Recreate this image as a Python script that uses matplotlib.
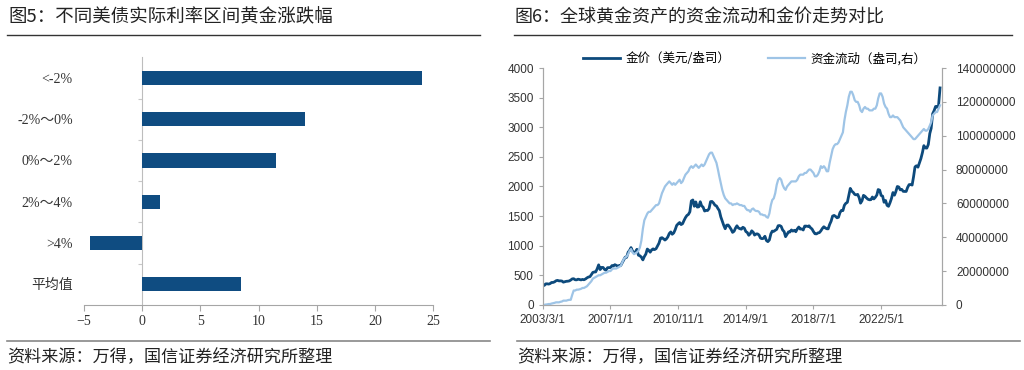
import matplotlib
matplotlib.use("Agg")
import matplotlib.pyplot as plt
from matplotlib.lines import Line2D
import numpy as np
import pandas as pd

plt.rcParams['font.family'] = ['Noto Sans CJK SC', 'DejaVu Sans']

# ---- left chart data ----
bar_labels = ['<-2%', '-2%～0%', '0%～2%', '2%～4%', '>4%', '平均值']
bar_vals = [24.0, 14.0, 11.5, 1.5, -4.5, 8.5]

# ---- right chart data (monthly, 2003/3 .. 2025/9) ----
gold = [
    352, 328, 355, 356, 351, 360, 379, 379, 389, 407,                   # 2003
    414, 405, 406, 403, 384, 392, 398, 400, 405, 420, 439, 442,         # 2004
    424, 423, 434, 429, 422, 430, 424, 437, 456, 470, 476, 510,         # 2005
    549, 555, 557, 610, 676, 596, 633, 632, 598, 586, 628, 629,         # 2006
    631, 664, 655, 679, 667, 655, 665, 665, 712, 754, 806, 803,         # 2007
    889, 922, 968, 909, 888, 889, 939, 839, 829, 806, 760, 816,         # 2008
    858, 943, 924, 890, 928, 946, 934, 949, 996, 1043, 1127, 1135,      # 2009
    1117, 1095, 1113, 1148, 1205, 1232, 1193, 1215, 1271, 1342, 1370, 1391,  # 2010
    1356, 1372, 1424, 1474, 1510, 1528, 1572, 1756, 1772, 1666, 1739, 1652,  # 2011
    1656, 1742, 1673, 1650, 1585, 1596, 1594, 1626, 1744, 1747, 1721, 1684,  # 2012
    1671, 1627, 1593, 1487, 1414, 1343, 1286, 1347, 1349, 1316, 1275, 1225,  # 2013
    1244, 1300, 1336, 1299, 1287, 1279, 1311, 1296, 1239, 1222, 1176, 1201,  # 2014
    1251, 1227, 1179, 1198, 1199, 1181, 1128, 1118, 1124, 1159, 1087, 1068,  # 2015
    1097, 1200, 1246, 1242, 1260, 1276, 1337, 1340, 1326, 1266, 1238, 1152,  # 2016
    1192, 1234, 1231, 1266, 1246, 1260, 1236, 1283, 1315, 1280, 1283, 1265,  # 2017
    1331, 1331, 1325, 1335, 1303, 1282, 1238, 1202, 1199, 1215, 1221, 1250,  # 2018
    1291, 1320, 1301, 1286, 1284, 1359, 1413, 1500, 1511, 1495, 1471, 1480,  # 2019
    1560, 1597, 1592, 1683, 1716, 1732, 1846, 1968, 1921, 1900, 1866, 1858,  # 2020
    1867, 1808, 1718, 1760, 1850, 1834, 1807, 1785, 1775, 1777, 1822, 1790,  # 2021
    1817, 1856, 1948, 1937, 1849, 1836, 1733, 1764, 1681, 1665, 1726, 1798,  # 2022
    1898, 1853, 1912, 2000, 1992, 1943, 1951, 1918, 1916, 1916, 1986, 2031,  # 2023
    2033, 2024, 2160, 2331, 2350, 2326, 2398, 2472, 2571, 2690, 2651, 2648,  # 2024
    2709, 2895, 2983, 3229, 3281, 3352, 3340, 3368, 3665,                    # 2025
]

flows_mn = [
    0, 0, 0.2, 0.3, 0.5, 0.5, 0.8, 1, 1.2, 1.5,                          # 2003
    1.5, 1.5, 1.8, 2, 2.5, 2.5, 2.5, 2.8, 3, 3, 6, 8.5,                   # 2004
    8.5, 9, 9, 9.2, 9.5, 10, 10, 10.5, 11, 12, 13, 14,                    # 2005
    15.5, 16, 16.5, 17, 17.5, 17.5, 18, 18.5, 19, 19, 19.5, 20,           # 2006
    20, 21, 21.5, 21.5, 21.5, 22, 22.5, 23, 25, 27, 28, 28.5,             # 2007
    30, 32, 33, 31, 30, 30.5, 31, 32, 34, 38, 45, 50,                     # 2008
    52, 54, 55, 55, 56, 57, 58, 59, 59, 60, 63, 66,                       # 2009
    68, 70, 71, 72, 73, 72, 71, 72, 71, 72, 73, 74,                       # 2010
    72, 73, 75, 77, 78, 79, 81, 82, 81, 82, 83, 82,                       # 2011
    81, 82, 83, 82, 83, 85, 87, 89, 90, 90, 88, 86,                       # 2012
    84, 80, 76, 72, 68, 65, 63, 62, 61, 60, 60, 59,                       # 2013
    59.5, 59.5, 60, 59.5, 59, 59, 58.5, 58.5, 57, 56, 56, 55,             # 2014
    56.5, 57, 56, 55.5, 55.5, 55, 53.5, 53.5, 53, 53, 52, 51.5,           # 2015
    54, 59, 62, 63, 66, 71, 74, 75, 74, 71, 69, 68,                       # 2016
    70, 71, 72, 73, 73, 73, 73, 74, 76, 77, 77, 77,                       # 2017
    78, 78, 79, 80, 80, 79, 78, 76, 76, 77, 79, 82,                       # 2018
    81, 82, 81, 79, 79, 84, 88, 92, 94, 95, 95, 96,                       # 2019
    98, 100, 102, 109, 114, 118, 123, 126, 126, 124, 121, 120,            # 2020
    120, 118, 115, 114, 116, 117, 116, 116, 115, 115, 115, 116,           # 2021
    116, 118, 122, 125, 125, 123, 119, 117, 116, 113, 111, 111,           # 2022
    112, 111, 111, 111, 110, 109, 107, 105, 104, 103, 102, 101,           # 2023
    100, 99, 98, 98, 99, 100, 101, 102, 103, 104, 103, 103,               # 2024
    104, 106, 108, 112, 113, 114, 114, 116, 118,                          # 2025
]

date_ticks = ['2003-03-01', '2007-01-01', '2010-11-01', '2014-09-01', '2018-07-01', '2022-05-01']
date_tick_labels = ['2003/3/1', '2007/1/1', '2010/11/1', '2014/9/1', '2018/7/1', '2022/5/1']

dates = pd.date_range('2003-03-01', periods=len(gold), freq='MS')
flows = np.array(flows_mn) * 1e6

bar_color = '#0f4c81'
gold_color = '#0d4a7c'
flow_color = '#9ec4e6'
spine_gray = '#a6a6a6'
text_col = '#333333'

fig = plt.figure(figsize=(10.24, 3.70), dpi=100)

# ================= left: bar chart =================
ax1 = fig.add_axes([0.082, 0.176, 0.341, 0.669])
y = np.arange(len(bar_labels))
ax1.barh(y, bar_vals, height=0.35, color=bar_color)
ax1.set_xlim(-5, 25)
ax1.set_ylim(len(bar_labels) - 0.5, -0.5)
ax1.set_xticks(np.arange(-5, 30, 5))
ax1.set_yticks(y)
ax1.set_yticklabels(bar_labels)
for t in ax1.get_yticklabels():
    t.set_family(['Liberation Serif', 'Noto Sans CJK SC'])
    t.set_fontsize(10)
    t.set_color(text_col)
for t in ax1.get_xticklabels():
    t.set_family('Liberation Serif')
    t.set_fontsize(10)
    t.set_color(text_col)
ax1.tick_params(axis='y', length=0, pad=8)
ax1.tick_params(axis='x', length=4, color=spine_gray, direction='out', pad=3)
for s in ['top', 'right', 'left']:
    ax1.spines[s].set_visible(False)
ax1.spines['bottom'].set_color(spine_gray)

# vertical axis at zero
sec = ax1.secondary_yaxis(5 / 30)
sec.set_yticks(np.arange(0.5, len(bar_labels) - 0.5, 1))
sec.tick_params(length=3, color='#c8c8c8', labelleft=False, labelright=False)
sec.spines['left'].set_color('#bdbdbd')

# ================= right: line chart =================
ax2 = fig.add_axes([0.530, 0.176, 0.390, 0.640])
ax3 = ax2.twinx()
l1, = ax2.plot(dates, gold, color=gold_color, lw=2.0, label='金价（美元/盎司）')
l2, = ax3.plot(dates, flows, color=flow_color, lw=1.6, label='资金流动（盎司,右）')

ax2.set_xlim(pd.Timestamp('2003-03-01'), pd.Timestamp('2025-10-13'))
ax2.set_ylim(0, 4000)
ax2.set_yticks(np.arange(0, 4001, 500))
ax3.set_ylim(0, 140000000)
ax3.set_yticks(np.arange(0, 140000001, 20000000))
ax3.set_yticklabels([str(v) for v in np.arange(0, 140000001, 20000000)])
ax2.set_xticks(pd.to_datetime(date_ticks))
ax2.set_xticklabels(date_tick_labels)

for a in (ax2, ax3):
    a.spines['top'].set_visible(False)
    for s in ['left', 'right', 'bottom']:
        a.spines[s].set_color(spine_gray)
    a.tick_params(colors=spine_gray, labelcolor=text_col, labelsize=8.5, length=3)
    for t in a.get_xticklabels() + a.get_yticklabels():
        t.set_family('Liberation Sans')
ax3.tick_params(axis='y', pad=7)

ax2.legend([l1, l2], [l1.get_label(), l2.get_label()], loc='center', ncol=2,
           bbox_to_anchor=(0.53, 1.04), frameon=False, fontsize=9,
           handlelength=3.0, columnspacing=3.0, handletextpad=0.4)

# ================= titles, rules, sources =================
fig.text(8 / 1024, 1 - 17 / 370, '图5：不同美债实际利率区间黄金涨跌幅', fontsize=13.3,
         color='#222222', va='center', ha='left')
fig.text(514 / 1024, 1 - 17 / 370, '图6：全球黄金资产的资金流动和金价走势对比', fontsize=13,
         color='#222222', va='center', ha='left')
for x0, x1 in [(7, 480), (514, 1012)]:
    fig.add_artist(Line2D([x0 / 1024, x1 / 1024], [1 - 35 / 370] * 2, color='#333333', lw=1.0))
for x0, x1 in [(7, 490), (517, 1020)]:
    fig.add_artist(Line2D([x0 / 1024, x1 / 1024], [1 - 341 / 370] * 2, color='#888888', lw=1.2))
fig.text(7 / 1024, 1 - 357 / 370, '资料来源：万得，国信证券经济研究所整理', fontsize=12.3,
         color='#222222', va='center', ha='left')
fig.text(517 / 1024, 1 - 357 / 370, '资料来源：万得，国信证券经济研究所整理', fontsize=12.3,
         color='#222222', va='center', ha='left')

fig.savefig('out.png', dpi=100)
